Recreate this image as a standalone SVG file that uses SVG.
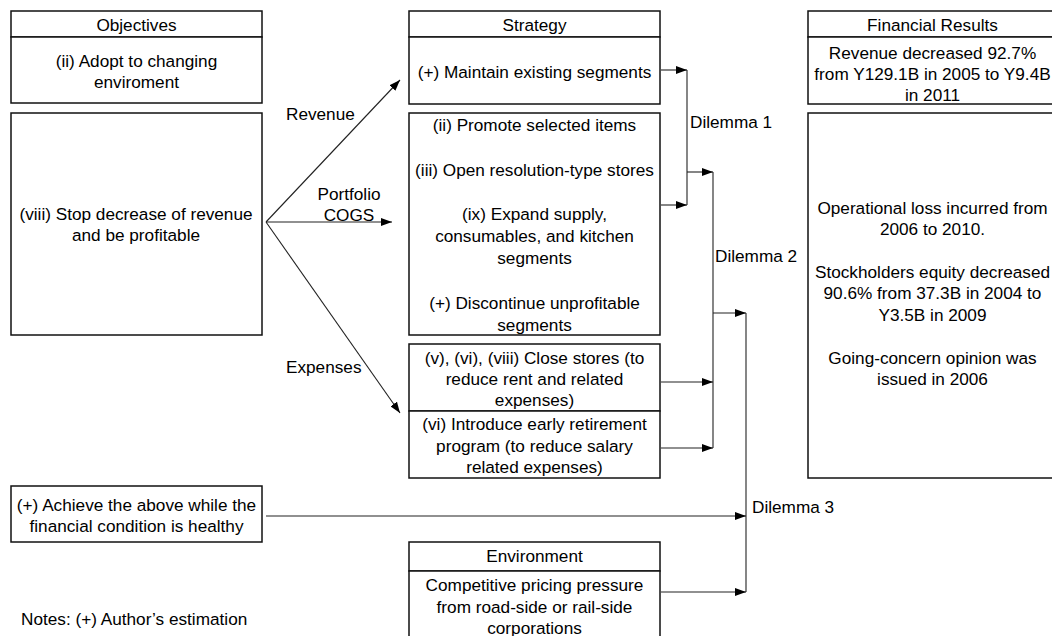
<svg xmlns="http://www.w3.org/2000/svg" width="1052" height="636" viewBox="0 0 1052 636">
<style>
.box{fill:#fff;stroke:#111;stroke-width:1.5}
.t{font-family:"Liberation Sans",Arial,sans-serif;font-size:17.2px;fill:#000;text-anchor:middle}
.s{text-anchor:start}
.c{stroke:#222;stroke-width:1.1;fill:none}
</style>
<defs>
<marker id="ah" markerUnits="userSpaceOnUse" markerWidth="11" markerHeight="8" refX="11" refY="4" orient="auto">
<path d="M0,0 L11,4 L0,8 z" fill="#000"/>
</marker>
</defs>
<rect width="1052" height="636" fill="#fff"/>

<g id="objectives">
<rect class="box" x="11" y="11" width="251" height="26"/>
<rect class="box" x="11" y="37" width="251" height="66"/>
<text class="t" x="136.5" y="30.5">Objectives</text>
<text class="t" x="136.5" y="66.5">(ii) Adopt to changing</text>
<text class="t" x="136.5" y="87.5">enviroment</text>
</g>
<g id="objective-viii">
<rect class="box" x="11" y="113" width="251" height="222"/>
<text class="t" x="136" y="220">(viii) Stop decrease of revenue</text>
<text class="t" x="136" y="241">and be profitable</text>
</g>
<g id="objective-healthy">
<rect class="box" x="11" y="486" width="251" height="56"/>
<text class="t" x="136.5" y="511">(+) Achieve the above while the</text>
<text class="t" x="136.5" y="532">financial condition is healthy</text>
</g>

<g id="strategy">
<rect class="box" x="409" y="11" width="251" height="26"/>
<rect class="box" x="409" y="37" width="251" height="67"/>
<text class="t" x="534.5" y="30.5">Strategy</text>
<text class="t" x="534.5" y="77.5">(+) Maintain existing segments</text>
</g>
<g id="strategy-portfolio">
<rect class="box" x="409" y="113" width="251" height="222"/>
<text class="t" x="534.5" y="131">(ii) Promote selected items</text>
<text class="t" x="534.5" y="175.5">(iii) Open resolution-type stores</text>
<text class="t" x="534.5" y="220">(ix) Expand supply,</text>
<text class="t" x="534.5" y="242">consumables, and kitchen</text>
<text class="t" x="534.5" y="264">segments</text>
<text class="t" x="534.5" y="309">(+) Discontinue unprofitable</text>
<text class="t" x="534.5" y="331">segments</text>
</g>
<g id="strategy-close-stores">
<rect class="box" x="409" y="344" width="251" height="67"/>
<text class="t" x="534.5" y="363.5">(v), (vi), (viii) Close stores (to</text>
<text class="t" x="534.5" y="385">reduce rent and related</text>
<text class="t" x="534.5" y="406">expenses)</text>
</g>
<g id="strategy-retirement">
<rect class="box" x="409" y="411" width="251" height="67"/>
<text class="t" x="534.5" y="430">(vi) Introduce early retirement</text>
<text class="t" x="534.5" y="451.5">program (to reduce salary</text>
<text class="t" x="534.5" y="472.5">related expenses)</text>
</g>
<g id="environment">
<rect class="box" x="409" y="542" width="251" height="29"/>
<rect class="box" x="409" y="571" width="251" height="80"/>
<text class="t" x="534.5" y="562">Environment</text>
<text class="t" x="534.5" y="590.5">Competitive pricing pressure</text>
<text class="t" x="534.5" y="612.5">from road-side or rail-side</text>
<text class="t" x="534.5" y="633.5">corporations</text>
</g>

<g id="financial-results">
<rect class="box" x="808" y="11" width="250" height="26"/>
<rect class="box" x="808" y="37" width="250" height="67"/>
<text class="t" x="932.5" y="30.5">Financial Results</text>
<text class="t" x="932.5" y="59">Revenue decreased 92.7%</text>
<text class="t" x="932.5" y="80">from Y129.1B in 2005 to Y9.4B</text>
<text class="t" x="932.5" y="100.5">in 2011</text>
</g>
<g id="financial-losses">
<rect class="box" x="808" y="113" width="250" height="365"/>
<text class="t" x="932.5" y="213.5">Operational loss incurred from</text>
<text class="t" x="932.5" y="235">2006 to 2010.</text>
<text class="t" x="932.5" y="278">Stockholders equity decreased</text>
<text class="t" x="932.5" y="299">90.6% from 37.3B in 2004 to</text>
<text class="t" x="932.5" y="320.5">Y3.5B in 2009</text>
<text class="t" x="932.5" y="363.5">Going-concern opinion was</text>
<text class="t" x="932.5" y="385">issued in 2006</text>
</g>

<g id="connectors">
<line class="c" x1="266" y1="222" x2="400" y2="80" marker-end="url(#ah)"/>
<line class="c" x1="266" y1="222" x2="392" y2="222" marker-end="url(#ah)"/>
<line class="c" x1="266" y1="222" x2="400" y2="413" marker-end="url(#ah)"/>
<line class="c" x1="661" y1="70" x2="687" y2="70" marker-end="url(#ah)"/>
<line class="c" x1="661" y1="205" x2="687" y2="205" marker-end="url(#ah)"/>
<line class="c" x1="687" y1="70" x2="687" y2="205"/>
<line class="c" x1="687" y1="172" x2="713" y2="172" marker-end="url(#ah)"/>
<line class="c" x1="713" y1="172" x2="713" y2="448"/>
<line class="c" x1="661" y1="382" x2="713" y2="382" marker-end="url(#ah)"/>
<line class="c" x1="661" y1="448" x2="713" y2="448" marker-end="url(#ah)"/>
<line class="c" x1="713" y1="313" x2="746" y2="313" marker-end="url(#ah)"/>
<line class="c" x1="746" y1="313" x2="746" y2="592"/>
<line class="c" x1="266" y1="516" x2="746" y2="516" marker-end="url(#ah)"/>
<line class="c" x1="661" y1="592" x2="746" y2="592" marker-end="url(#ah)"/>
</g>

<g id="labels">
<text class="t s" x="286" y="120">Revenue</text>
<text class="t" x="349" y="200">Portfolio</text>
<text class="t" x="349" y="221">COGS</text>
<text class="t s" x="286" y="373">Expenses</text>
<text class="t s" x="690" y="127.5">Dilemma 1</text>
<text class="t s" x="715" y="261.5">Dilemma 2</text>
<text class="t s" x="752" y="512.5">Dilemma 3</text>
<text class="t s" x="21" y="625">Notes: (+) Author’s estimation</text>
</g>
</svg>
